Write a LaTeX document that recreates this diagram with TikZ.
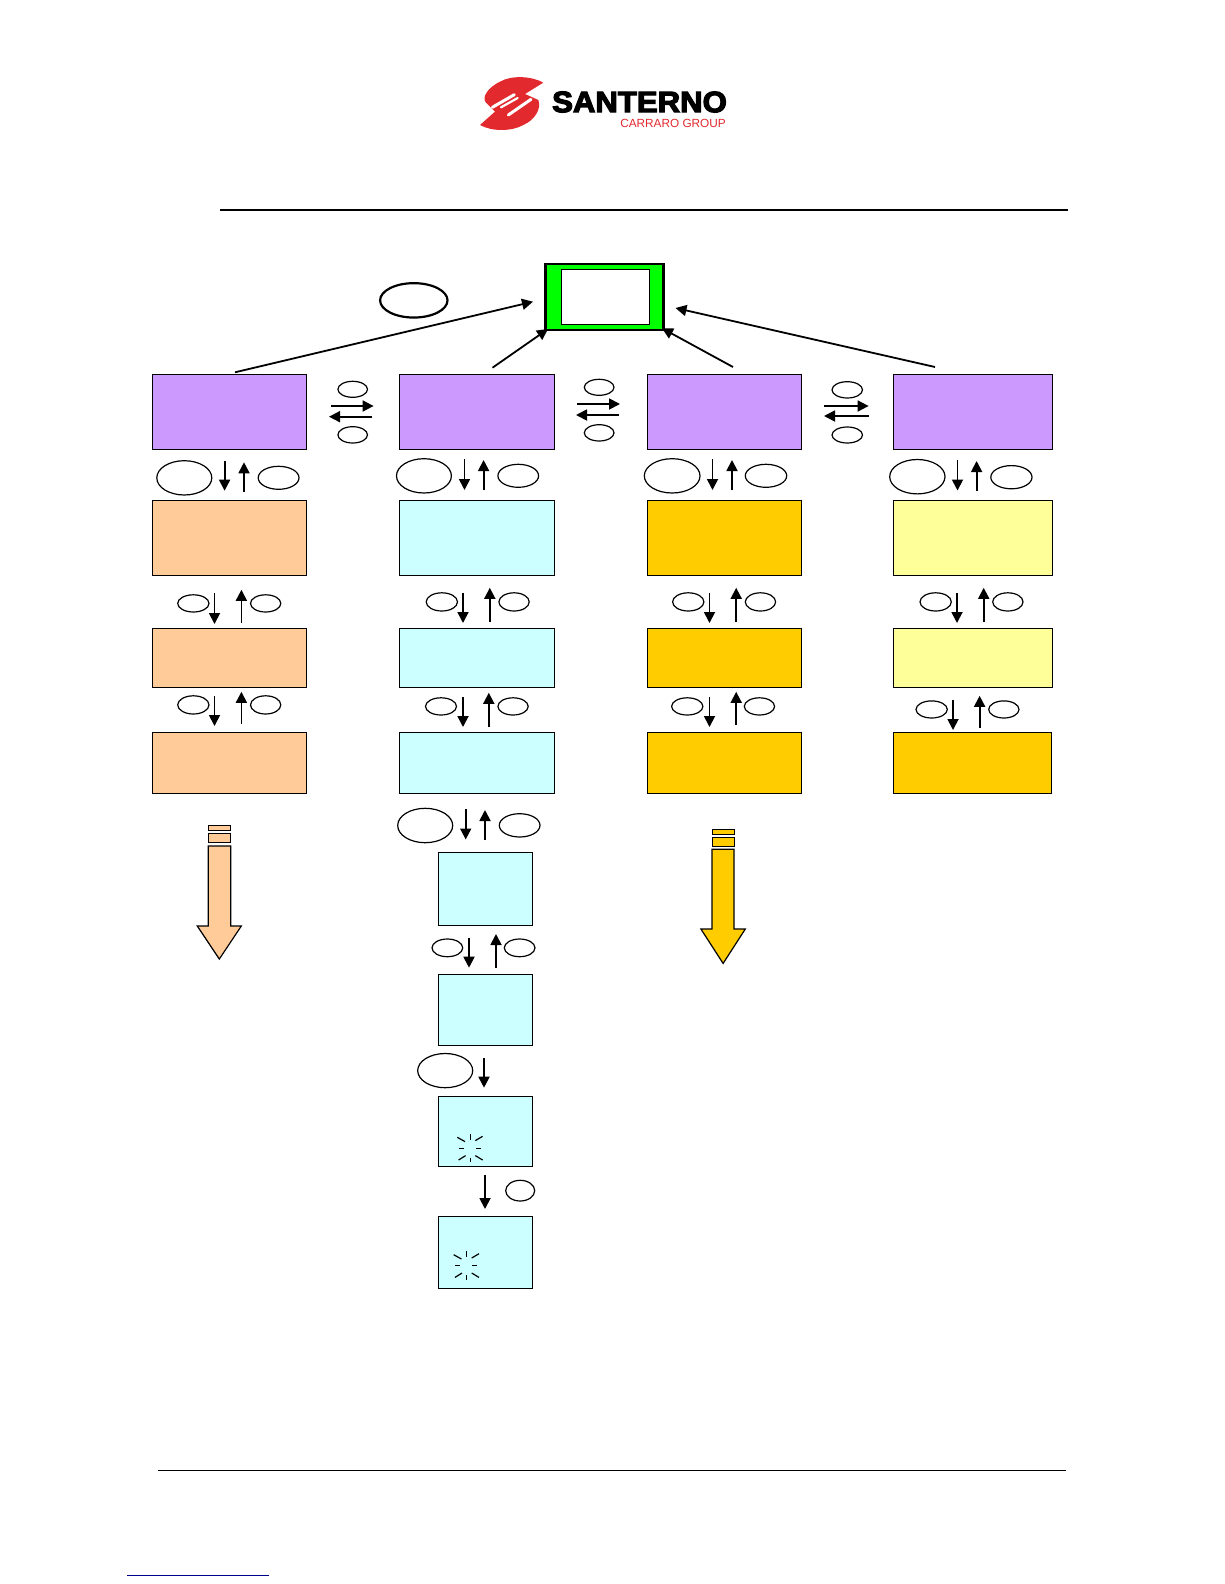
\documentclass[tikz,border=0pt]{standalone}
\usepackage{fontspec}
\setmainfont{Liberation Sans}
\usetikzlibrary{arrows.meta,shapes.geometric}
\definecolor{purp}{HTML}{CC99FF}
\definecolor{peach}{HTML}{FFCC99}
\definecolor{cyanb}{HTML}{CCFFFF}
\definecolor{gold}{HTML}{FFCC00}
\definecolor{yel}{HTML}{FFFF99}
\definecolor{logored}{HTML}{E2292E}
\tikzset{
  boxst/.style={draw=black,line width=0.9pt,inner sep=0pt,outer sep=0pt},
  ellst/.style={draw=black,line width=1.2pt,shape=ellipse,inner sep=0pt,outer sep=0pt},
  arr/.style={draw=black,line width=1.8pt,-{Triangle[length=11pt,width=11pt]}},
  bigarr/.style={draw=black,line width=1.2pt,line join=miter},
  bar/.style={draw=black,line width=1pt,inner sep=0pt},
  ray/.style={draw=black,line width=1.2pt},
}
% name, x0,y0,x1,y1, fill
\newcommand{\bx}[6]{\node[boxst,fill=#6,minimum width={(#4-#2)*1pt},minimum height={(#5-#3)*1pt}] (#1) at ({(#2+#4)/2},{(#3+#5)/2}) {};}
% name, x0,y0,x1,y1
\newcommand{\el}[5]{\node[ellst,minimum width={(#4-#2)*1pt},minimum height={(#5-#3)*1pt}] (#1) at ({(#2+#4)/2},{(#3+#5)/2}) {};}
% name, x0,y0,x1,y1
\newcommand{\ar}[5]{\coordinate (#1s) at (#2,#3);\coordinate (#1e) at (#4,#5);\draw[arr] (#1s) -- (#1e);}
\newcommand{\spark}[2]{\begin{scope}[shift={(#1,#2)}]
  \draw[ray] (0,-14.3) -- (0,-8.3);
  \draw[ray] (0,9.3) -- (0,14);
  \draw[ray] (-11.3,0) -- (-6.7,0);
  \draw[ray] (5.7,0) -- (10.7,0);
  \draw[ray] (-13,-11) -- (-5.3,-6.7);
  \draw[ray] (5,-7.7) -- (12.3,-12);
  \draw[ray] (-11.7,11.7) -- (-4.7,7.3);
  \draw[ray] (5,7.3) -- (12.3,11.7);
\end{scope}}
% fill, shaft L,R, top, shoulder, head L,R, tip y
\newcommand{\bigdown}[8]{\draw[bigarr,fill=#1] (#2,#4) -- (#3,#4) -- (#3,#5) -- (#7,#5) -- ({(#6+#7)/2},#8) -- (#6,#5) -- (#2,#5) -- cycle;}
\begin{document}
\begin{tikzpicture}[x=1pt,y=-1pt]
\useasboundingbox (0,0) rectangle (1224,1584);
% logo
\begin{scope}[shift={(475,70)},x=0.3333pt,y=-0.3333pt]
  \fill[logored] (205,38) .. controls (170,18) and (110,15) .. (75,35) .. controls (40,52) and (20,80) .. (32,97) -- (60,125) -- (15,165) .. controls (50,185) and (110,185) .. (145,165) .. controls (180,150) and (200,115) .. (190,90) -- (150,72) -- cycle;
  \draw[white,line width=3pt,line cap=round] (52,112) -- (118,74);
  \draw[white,line width=3pt,line cap=round] (100,135) -- (168,88);
  \draw[white,line width=2.2pt,line cap=round] (78,112) -- (128,84);
\end{scope}
\node[inner sep=0pt,anchor=west,xscale=1.055,font=\bfseries\fontsize{29.5}{30}\selectfont] (logoname) at (552,102) {\addfontfeature{FakeBold=4}SANTERNO};
\node[inner sep=0pt,anchor=east,text=logored,font=\fontsize{11.8}{12}\selectfont] (logogroup) at (726,123) {CARRARO GROUP};
% rules
\coordinate (ruleAa) at (220,210); \coordinate (ruleAb) at (1067.5,210);
\draw[line width=2pt] (ruleAa) -- (ruleAb);
\coordinate (ruleBa) at (158.3,1470.3); \coordinate (ruleBb) at (1065.5,1470.3);
\draw[line width=1.2pt] (ruleBa) -- (ruleBb);
\coordinate (ruleCa) at (127,1575.3); \coordinate (ruleCb) at (269,1575.3);
\draw[line width=1pt,color=blue!55!black] (ruleCa) -- (ruleCb);
% top
\node[draw=black,line width=2.2pt,fill=green,minimum width=118pt,minimum height=66pt,inner sep=0pt] (top) at (604.5,297) {};
\bx{topin}{561}{269.3}{649.6}{324.3}{white}
\node[ellst,line width=2.2pt,minimum width=67.4pt,minimum height=34.4pt] (esc) at (413.8,300.35) {};
% purple row
\bx{pa}{152.5}{374.3}{306.8}{449.3}{purp}
\bx{pb}{399}{374.3}{554.6}{449.3}{purp}
\bx{pc}{647.5}{374.3}{801.5}{449.3}{purp}
\bx{pd}{893.5}{374.3}{1052.5}{449.3}{purp}
% row1
\bx{aa}{152.5}{500.3}{306.8}{575.3}{peach}
\bx{ba}{399}{500.3}{554.6}{575.3}{cyanb}
\bx{ca}{647.5}{500.3}{801.5}{575.3}{gold}
\bx{da}{893.5}{500.3}{1052.5}{575.3}{yel}
% row2
\bx{ab}{152.5}{628}{306.8}{687.5}{peach}
\bx{bb}{399}{628}{554.6}{687.5}{cyanb}
\bx{cb}{647.5}{628}{801.5}{687.5}{gold}
\bx{db}{893.5}{628}{1052.5}{687.5}{yel}
% row3
\bx{ac}{152.5}{732}{306.8}{793}{peach}
\bx{bc}{399}{732}{554.6}{793}{cyanb}
\bx{cc}{647.5}{732}{801.5}{793}{gold}
\bx{dc}{893.5}{732}{1051.5}{793}{gold}
% col b lower
\bx{bd}{438.3}{852.3}{532.7}{925.7}{cyanb}
\bx{be}{438.3}{974.3}{532.7}{1045.7}{cyanb}
\bx{bf}{438.3}{1096.3}{532.7}{1166.7}{cyanb}
\bx{bg}{438.3}{1216.3}{532.7}{1288.3}{cyanb}
\spark{470.3}{1148.3}
\spark{466.7}{1265.7}
% to top
\ar{ta}{235}{372.3}{533}{301.7}
\ar{tb}{492.5}{367.7}{548}{329}
\ar{tc}{733}{367}{662}{328.3}
\ar{td}{935}{367}{675.5}{308}
% horizontal
\el{ha1}{337.9}{381.3}{367.5}{397.3}\el{ha2}{337.9}{426.7}{367.5}{443}
\ar{har}{331}{406}{373.6}{406}\ar{hal}{372}{416.7}{329}{416.7}
\el{hb1}{584.3}{379.3}{614}{395.3}\el{hb2}{584.3}{424.7}{614}{441}
\ar{hbr}{577}{404}{620}{404}\ar{hbl}{619}{415}{576}{415}
\el{hc1}{832}{381.7}{862.5}{398}\el{hc2}{832}{427}{862.5}{443}
\ar{hcr}{824}{406}{868.6}{406}\ar{hcl}{868.6}{416}{824}{416}
% row 1 vertical
\el{e1a}{156.8}{460.7}{211.8}{495}\ar{d1a}{224.6}{461.3}{224.6}{490.7}\ar{u1a}{244}{491.7}{244}{462.3}\el{f1a}{258.2}{466.3}{299}{489.3}
\el{e1b}{396.5}{458.7}{451.4}{493}\ar{d1b}{464.5}{459}{464.5}{490}\ar{u1b}{483.6}{490}{483.6}{460}\el{f1b}{497.9}{464.3}{538.6}{487.3}
\el{e1c}{644.3}{458.7}{700}{493}\ar{d1c}{712.5}{459}{712.5}{490}\ar{u1c}{732}{490}{732}{460}\el{f1c}{745.3}{464.3}{786.7}{487.3}
\el{e1d}{889.7}{459.5}{945}{493.9}\ar{d1d}{957.5}{459.5}{957.5}{490.5}\ar{u1d}{976.6}{491}{976.6}{461}\el{f1d}{990.8}{465.6}{1032}{488.8}
% row 2 vertical
\el{e2a}{177.7}{594.8}{209}{612}\ar{d2a}{214.5}{592.8}{214.5}{624}\ar{u2a}{241.4}{623}{241.4}{589.8}\el{f2a}{250.5}{594.8}{280.8}{612}
\el{e2b}{426.2}{592.8}{457.5}{611}\ar{d2b}{463}{592.8}{463}{623}\ar{u2b}{489.8}{622}{489.8}{587.8}\el{f2b}{498.9}{592.8}{529.2}{611}
\el{e2c}{672.6}{592.8}{703.9}{611}\ar{d2c}{709.5}{592.8}{709.5}{623}\ar{u2c}{736.2}{622}{736.2}{587.8}\el{f2c}{745.3}{592.8}{775.6}{611}
\el{e2d}{920}{592.8}{951.3}{611}\ar{d2d}{957}{592.8}{957}{623}\ar{u2d}{983.7}{622}{983.7}{587.8}\el{f2d}{992.7}{592.8}{1023}{611}
% row 3 vertical
\el{e3a}{177.7}{695.8}{209}{714}\ar{d3a}{214.5}{695.8}{214.5}{726}\ar{u3a}{241.4}{724}{241.4}{691.8}\el{f3a}{250.5}{695.8}{280.8}{714}
\el{e3b}{425.5}{697.8}{456.5}{715}\ar{d3b}{463}{696.8}{463}{727}\ar{u3b}{488.8}{727}{488.8}{692.8}\el{f3b}{497.9}{697.8}{528.2}{715}
\el{e3c}{671.6}{697.8}{702.9}{715}\ar{d3c}{709.5}{696.8}{709.5}{727}\ar{u3c}{736.2}{725}{736.2}{691.8}\el{f3c}{744.3}{697.8}{774.6}{715}
\el{e3d}{916}{700.9}{947.3}{718}\ar{d3d}{953}{699.9}{953}{730}\ar{u3d}{979.6}{728}{979.6}{695.8}\el{f3d}{988.7}{700.9}{1019}{718}
% lower col b
\el{e4}{397.7}{808.3}{452.7}{842.7}\ar{d4}{465.7}{809}{465.7}{839.5}\ar{u4}{485}{839.7}{485}{810}\el{f4}{499.3}{813.7}{540}{837}
\el{e5}{432}{939}{462.7}{956.7}\ar{d5}{469}{937.7}{469}{967.7}\ar{u5}{496}{967.7}{496}{934}\el{f5}{504.3}{939}{535}{956.7}
\el{e6}{417.7}{1053.5}{472.7}{1087.7}\ar{d6}{484}{1058}{484}{1087.7}
\ar{d7}{485}{1175.3}{485}{1209}\el{f7}{505.7}{1180.3}{534.7}{1201}
% big arrows
\bigdown{peach}{208.3}{230.7}{846}{926}{197.3}{241.3}{959}
\node[bar,fill=peach,minimum width=22.4pt,minimum height=5pt] (pbara) at (219.5,827.8) {};
\node[bar,fill=peach,minimum width=22.4pt,minimum height=9.4pt] (pbarb) at (219.5,838) {};
\bigdown{gold}{712}{734}{849.3}{929}{700.9}{745.3}{963.4}
\node[bar,fill=gold,minimum width=22pt,minimum height=5pt] (gbara) at (723,831.5) {};
\node[bar,fill=gold,minimum width=22pt,minimum height=9pt] (gbarb) at (723,841.5) {};
\end{tikzpicture}
\end{document}
